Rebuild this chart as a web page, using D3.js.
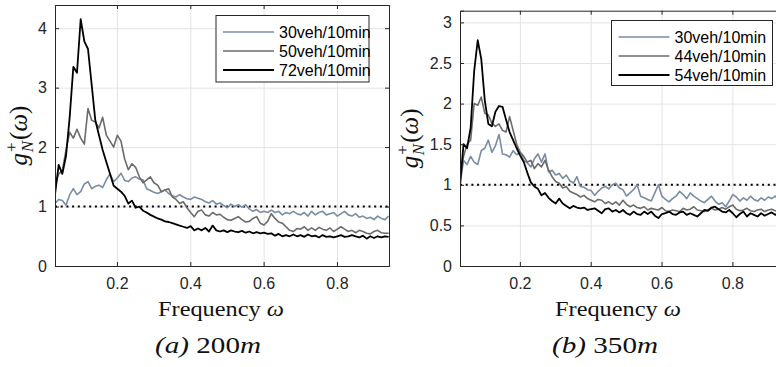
<!DOCTYPE html>
<html>
<head>
<meta charset="utf-8">
<script src="https://cdn.jsdelivr.net/npm/d3@7"></script>
<style>
  body { margin: 0; background: #fff; }
  svg { display: block; }
  .tick text { font-family: "Liberation Sans", Arial, sans-serif; font-size: 16px; fill: #262626; }
  .serif { font-family: "Liberation Serif", serif; fill: #111; }
</style>
</head>
<body>
<script>
// frequency bins (shared by every series)
var freqStart = 0.031, freqStep = 0.01, freqCount = 92;

// (a) 200m
var labelsA = ['30veh/10min', '50veh/10min', '72veh/10min'];
var a30 = [1.05,1.12,1.1,1.02,1.2,1.3,1.2,1.25,1.38,1.42,1.3,1.34,1.36,1.32,1.45,1.55,1.42,1.48,1.56,1.44,
  1.42,1.48,1.5,1.46,1.45,1.3,1.27,1.24,1.22,1.25,1.28,1.22,1.18,1.16,1.2,1.16,1.13,1.12,1.16,1.14,
  1.12,1.08,1.06,1.1,1.04,1.06,1.02,0.98,1.04,1.0,1.03,0.99,1.03,0.96,0.92,0.95,0.9,0.92,0.9,0.94,
  0.9,0.92,0.86,0.9,0.88,0.92,0.88,0.86,0.9,0.84,0.92,0.86,0.9,0.92,0.86,0.88,0.9,0.84,0.88,0.92,
  0.86,0.84,0.88,0.82,0.84,0.8,0.82,0.78,0.84,0.8,0.78,0.84];
var a50 = [1.35,1.55,1.6,1.95,2.25,2.15,2.3,2.15,2.05,2.65,2.45,2.42,2.32,2.5,2.2,2.1,2.0,2.2,2.1,1.8,
  1.62,1.72,1.66,1.5,1.4,1.45,1.5,1.4,1.36,1.25,1.28,1.3,1.16,1.12,1.05,1.08,0.98,0.9,0.83,0.92,
  0.94,0.86,0.84,0.9,0.86,0.87,0.82,0.78,0.77,0.8,0.83,0.78,0.74,0.75,0.8,0.83,0.72,0.69,0.75,0.88,
  0.8,0.74,0.72,0.66,0.6,0.58,0.63,0.62,0.66,0.6,0.64,0.6,0.65,0.62,0.6,0.64,0.58,0.62,0.66,0.62,
  0.58,0.6,0.56,0.6,0.58,0.55,0.54,0.58,0.6,0.56,0.55,0.55];
var a72 = [1.2,1.7,1.55,1.85,2.5,3.35,3.25,4.15,3.78,3.65,3.05,2.45,2.2,1.95,1.75,1.55,1.35,1.3,1.25,1.18,
  1.05,1.1,0.98,1.0,0.93,0.9,0.86,0.83,0.8,0.78,0.75,0.74,0.72,0.7,0.68,0.66,0.64,0.67,0.6,0.63,
  0.6,0.64,0.58,0.68,0.6,0.58,0.6,0.57,0.6,0.58,0.57,0.59,0.56,0.58,0.55,0.57,0.55,0.56,0.54,0.55,
  0.51,0.54,0.5,0.52,0.5,0.53,0.5,0.52,0.49,0.53,0.5,0.51,0.48,0.52,0.49,0.5,0.48,0.5,0.52,0.49,
  0.5,0.52,0.5,0.48,0.51,0.46,0.5,0.47,0.5,0.48,0.5,0.49];

// (b) 350m
var labelsB = ['30veh/10min', '44veh/10min', '54veh/10min'];
var b30 = [1.0,1.3,1.25,1.35,1.28,1.25,1.42,1.45,1.55,1.4,1.48,1.62,1.38,1.37,1.34,1.42,1.37,1.4,1.3,1.27,
  1.22,1.32,1.38,1.28,1.38,1.16,1.18,1.12,1.14,1.08,1.12,1.05,1.02,1.1,0.98,0.97,0.94,0.93,0.87,0.92,
  0.96,0.98,0.95,1.0,1.02,0.96,0.94,0.86,0.9,0.94,1.0,0.86,0.84,0.82,0.8,0.9,1.0,0.86,0.82,0.79,
  0.83,0.86,0.92,0.88,0.83,0.9,0.86,0.83,0.8,0.78,0.82,0.86,0.8,0.76,0.78,0.73,0.8,0.88,0.85,0.8,
  0.84,0.81,0.86,0.82,0.8,0.84,0.81,0.85,0.83,0.86,0.82,0.84];
var b44 = [1.05,1.35,1.5,1.55,2.0,1.98,2.08,1.88,1.86,1.76,1.72,1.75,1.67,1.65,1.84,1.67,1.5,1.4,1.35,1.28,
  1.3,1.2,1.26,1.22,1.3,1.18,1.1,1.04,1.02,0.96,0.98,0.92,0.9,0.88,0.85,0.87,0.83,0.81,0.79,0.82,
  0.81,0.77,0.79,0.76,0.79,0.75,0.81,0.76,0.73,0.75,0.72,0.71,0.73,0.69,0.71,0.7,0.69,0.72,0.68,0.67,
  0.69,0.68,0.67,0.71,0.69,0.7,0.73,0.69,0.68,0.67,0.69,0.71,0.69,0.7,0.72,0.7,0.73,0.75,0.7,0.68,
  0.69,0.71,0.68,0.67,0.69,0.7,0.67,0.69,0.7,0.68,0.67,0.69];
var b54 = [1.0,1.5,1.45,1.7,2.4,2.78,2.55,2.04,1.75,1.72,1.9,1.97,1.96,1.8,1.65,1.55,1.45,1.36,1.28,1.15,
  1.03,0.98,0.95,0.87,0.9,0.84,0.8,0.77,0.83,0.77,0.74,0.71,0.74,0.72,0.71,0.72,0.69,0.7,0.71,0.68,
  0.65,0.7,0.71,0.67,0.69,0.66,0.69,0.65,0.63,0.67,0.64,0.63,0.67,0.64,0.67,0.62,0.59,0.64,0.65,0.67,
  0.64,0.63,0.66,0.67,0.63,0.65,0.63,0.61,0.65,0.69,0.68,0.72,0.73,0.7,0.67,0.66,0.69,0.65,0.6,0.64,
  0.67,0.61,0.65,0.63,0.61,0.65,0.62,0.64,0.66,0.63,0.65,0.64];

var colours = ['#7a8da3', '#6b6b6b', '#000000'];
var widths = [1.6, 1.6, 1.8];
var freq = d3.range(freqCount).map(function(i){ return freqStart + i * freqStep; });

var svg = d3.select('body').append('svg')
  .attr('width', 776)
  .attr('height', 367);

var panels = [
  { left: 55, top: 5, right: 389, bottom: 266, yMax: 4.39, yTicks: [0,1,2,3,4],
    series: [a30, a50, a72], labels: labelsA, legend: { x: 216, y: 15.5, w: 153, h: 66.5, gap: 19 },
    caption: ['(a)', ' 200', 'm'], capX: 208, freqX: 221, ylabX: 19 },
  { left: 460, top: 10.7, right: 782.7, bottom: 266, yMax: 3.144, yTicks: [0,0.5,1,1.5,2,2.5,3],
    series: [b30, b44, b54], labels: labelsB, legend: { x: 611.5, y: 20.5, w: 161, h: 65, gap: 19 },
    caption: ['(b)', ' 350', 'm'], capX: 605, freqX: 618, ylabX: 410 }
];

panels.forEach(function(p, k){
  var w = p.right - p.left, h = p.bottom - p.top;
  var x = d3.scaleLinear().domain([0.031, 0.942]).range([p.left, p.right]);
  var y = d3.scaleLinear().domain([0, p.yMax]).range([p.bottom, p.top]);
  var xTicks = [0.2, 0.4, 0.6, 0.8];

  // grid
  svg.append('g')
    .attr('transform', 'translate(0,' + p.bottom + ')')
    .call(d3.axisBottom(x).tickValues(xTicks).tickSize(-h).tickFormat(''))
    .call(function(g){ g.select('.domain').remove(); g.selectAll('line').attr('stroke', '#e3e3e3'); });
  svg.append('g')
    .attr('transform', 'translate(' + p.left + ',0)')
    .call(d3.axisLeft(y).tickValues(p.yTicks).tickSize(-w).tickFormat(''))
    .call(function(g){ g.select('.domain').remove(); g.selectAll('line').attr('stroke', '#e3e3e3'); });

  // reference line at 1
  svg.append('line')
    .attr('x1', p.left).attr('x2', p.right)
    .attr('y1', y(1)).attr('y2', y(1))
    .attr('stroke', '#000').attr('stroke-width', 2)
    .attr('stroke-dasharray', '2,3.7');

  svg.append('clipPath').attr('id', 'clip' + k)
    .append('rect').attr('x', p.left).attr('y', p.top).attr('width', w).attr('height', h);

  var line = d3.line()
    .x(function(d, i){ return x(freq[i]); })
    .y(function(d){ return y(d); });

  svg.append('g').attr('clip-path', 'url(#clip' + k + ')')
    .selectAll('path')
    .data(p.series)
    .enter()
    .append('path')
    .attr('d', line)
    .attr('fill', 'none')
    .attr('stroke', function(d, i){ return colours[i]; })
    .attr('stroke-width', function(d, i){ return widths[i]; })
    .attr('stroke-linejoin', 'round');

  // axes, ticks pointing in
  var axCol = '#262626';
  var fmt = function(d){ return d3.format('')(d); };
  svg.append('g')
    .attr('transform', 'translate(0,' + p.bottom + ')')
    .call(d3.axisBottom(x).tickValues(xTicks).tickSize(-4).tickPadding(12).tickFormat(fmt))
    .call(function(g){ g.select('.domain').attr('stroke', axCol); g.selectAll('line').attr('stroke', axCol); });
  svg.append('g')
    .attr('transform', 'translate(' + p.left + ',0)')
    .call(d3.axisLeft(y).tickValues(p.yTicks).tickSize(-4).tickPadding(8).tickFormat(fmt))
    .call(function(g){ g.select('.domain').attr('stroke', axCol); g.selectAll('line').attr('stroke', axCol); });
  svg.append('g')
    .attr('transform', 'translate(0,' + p.top + ')')
    .call(d3.axisTop(x).tickValues(xTicks).tickSize(-4).tickFormat(''))
    .call(function(g){ g.select('.domain').attr('stroke', axCol); g.selectAll('line').attr('stroke', axCol); });
  svg.append('g')
    .attr('transform', 'translate(' + p.right + ',0)')
    .call(d3.axisRight(y).tickValues(p.yTicks).tickSize(-4).tickFormat(''))
    .call(function(g){ g.select('.domain').attr('stroke', axCol); g.selectAll('line').attr('stroke', axCol); });

  // legend
  var L = p.legend;
  var lg = svg.append('g');
  lg.append('rect')
    .attr('x', L.x).attr('y', L.y).attr('width', L.w).attr('height', L.h)
    .attr('fill', '#fff').attr('stroke', axCol).attr('stroke-width', 1);
  var rows = lg.selectAll('g.row').data(p.labels).enter().append('g').attr('class', 'row');
  rows.append('line')
    .attr('x1', L.x + 7).attr('x2', L.x + 58)
    .attr('y1', function(d, i){ return L.y + 16.5 + i * L.gap; })
    .attr('y2', function(d, i){ return L.y + 16.5 + i * L.gap; })
    .attr('stroke', function(d, i){ return colours[i]; })
    .attr('stroke-width', function(d, i){ return widths[i]; });
  rows.append('text')
    .attr('x', L.x + 63)
    .attr('y', function(d, i){ return L.y + 16.5 + i * L.gap; })
    .attr('dy', '0.35em')
    .attr('font-family', '"Liberation Sans", Arial, sans-serif')
    .attr('font-size', 16)
    .attr('fill', '#000')
    .text(function(d){ return d; });

  // y label g_N^+(omega)
  var cy = (p.top + p.bottom) / 2;
  var yl = svg.append('text').attr('class', 'serif')
    .attr('transform', 'translate(' + p.ylabX + ',' + cy + ') rotate(-90)')
    .attr('text-anchor', 'middle')
    .attr('dy', '0.3em')
    .attr('font-size', 25);
  yl.append('tspan').attr('font-style', 'italic').text('g');
  yl.append('tspan').attr('font-size', 17).attr('dy', -10).attr('dx', 1).text('+');
  yl.append('tspan').attr('font-size', 17).attr('font-style', 'italic').attr('dy', 16).attr('dx', -10).text('N');
  yl.append('tspan').attr('dy', -6).attr('dx', 1).text('(');
  yl.append('tspan').attr('font-style', 'italic').text('ω');
  yl.append('tspan').text(')');

  // x label
  var xl = svg.append('text').attr('class', 'serif')
    .attr('x', p.freqX)
    .attr('y', 316)
    .attr('text-anchor', 'middle')
    .attr('font-size', 22)
    .attr('textLength', 126)
    .attr('lengthAdjust', 'spacingAndGlyphs');
  xl.append('tspan').text('Frequency ');
  xl.append('tspan').attr('font-style', 'italic').text('ω');

  // caption
  var cap = svg.append('text').attr('class', 'serif')
    .attr('x', p.capX).attr('y', 353)
    .attr('text-anchor', 'middle')
    .attr('font-size', 23)
    .attr('textLength', 106)
    .attr('lengthAdjust', 'spacingAndGlyphs');
  cap.append('tspan').attr('font-style', 'italic').text(p.caption[0]);
  cap.append('tspan').text(p.caption[1]);
  cap.append('tspan').attr('font-style', 'italic').text(p.caption[2]);
});
</script>
</body>
</html>
